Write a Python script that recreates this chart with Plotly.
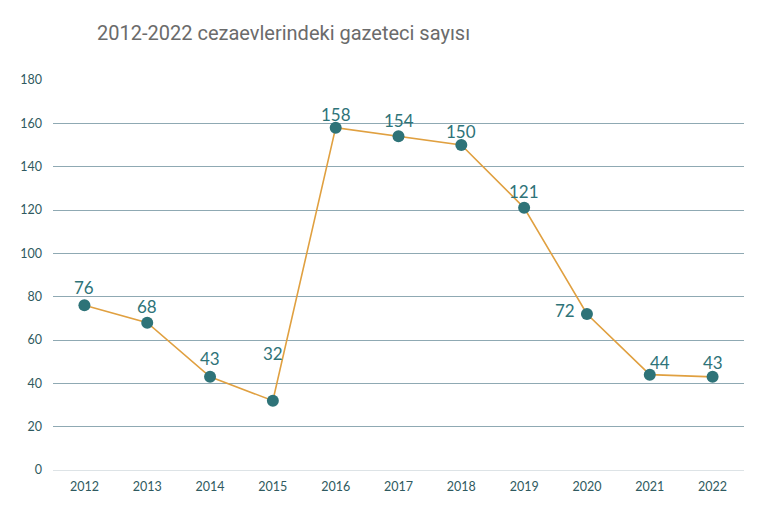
import plotly.graph_objects as go

years = ["2012", "2013", "2014", "2015", "2016", "2017", "2018", "2019", "2020", "2021", "2022"]
values = [76, 68, 43, 32, 158, 154, 150, 121, 72, 44, 43]
y_ticks = [0, 20, 40, 60, 80, 100, 120, 140, 160, 180]

# label offsets (pixels) for readability
label_dx = [0, 0, 0, 0, 0, 0, 0, 0, -22, 10, 0]
label_dy = [18, 16, 18, 47, 13, 16, 14, 16, 4, 12, 14]

teal = "#2e7378"
fig = go.Figure()
fig.add_trace(go.Scatter(
    x=years, y=values, mode="lines+markers",
    line=dict(color="#e0a040", width=1.6),
    marker=dict(color=teal, size=12),
    hoverinfo="skip", showlegend=False,
))

for i, (v, dx, dy) in enumerate(zip(values, label_dx, label_dy)):
    fig.add_annotation(x=i, y=v, text=str(v), showarrow=False,
                       xshift=dx, yshift=dy,
                       font=dict(family="Lato, Open Sans, sans-serif", size=17, color=teal))

fig.update_layout(
    width=764, height=507,
    margin=dict(l=42.5, r=27.5, t=72, b=45),
    paper_bgcolor="white", plot_bgcolor="white",
    title=dict(text="2012-2022 cezaevlerindeki gazeteci sayısı",
               x=89/764, xanchor="left", y=1 - 25/507, yanchor="middle",
               font=dict(family="Roboto, sans-serif", size=20, color="#6b6b6b")),
    xaxis=dict(type="category", range=[-0.5, len(years) - 0.5],
               showgrid=False, showline=False, ticks="",
               ticklabelstandoff=7,
               tickfont=dict(family="Lato, sans-serif", size=12.5, color="#2f5a60")),
    yaxis=dict(range=[0, 180], tickvals=y_ticks, showgrid=True,
               gridcolor="#8fa9b3", gridwidth=1, zeroline=True,
               zerolinecolor="#dde3e6", zerolinewidth=1, ticks="",
               ticklabelstandoff=10,
               tickfont=dict(family="Lato, sans-serif", size=12.5, color="#2f5a60")),
)
fig.write_html("out.html")
